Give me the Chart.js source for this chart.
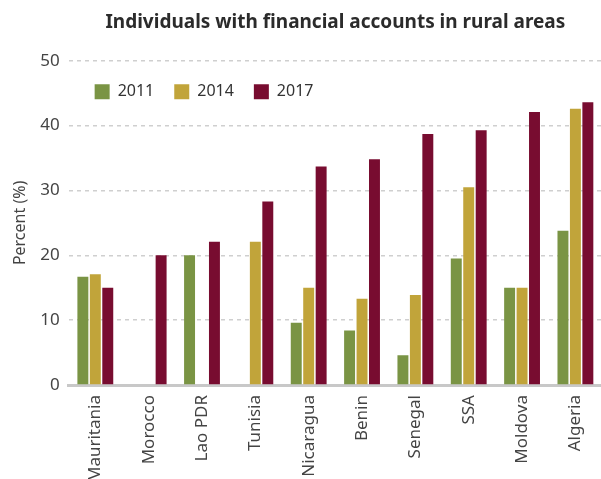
<!DOCTYPE html>
<html>
<head>
<meta charset="utf-8">
<script src="https://cdn.jsdelivr.net/npm/chart.js@4/dist/chart.umd.min.js"></script>
<style>
  html, body { margin: 0; padding: 0; background: #fff; overflow: hidden; }
  #wrap { width: 606px; height: 492px; }
</style>
</head>
<body>
<div id="wrap"><canvas id="chart" width="606" height="492"></canvas></div>
<script>
const countries = ["Mauritania", "Morocco", "Lao PDR", "Tunisia", "Nicaragua", "Benin", "Senegal", "SSA", "Moldova", "Algeria"];
const y2011 = [16.7, null, 20.0, null, 9.6, 8.4, 4.6, 19.5, 15.0, 23.8];
const y2014 = [17.1, null, null, 22.1, 15.0, 13.3, 13.9, 30.5, 15.0, 42.6];
const y2017 = [15.0, 20.0, 22.1, 28.3, 33.7, 34.8, 38.7, 39.3, 42.1, 43.6];
const yTicks = [0, 10, 20, 30, 40, 50];

const ctx = document.getElementById("chart").getContext("2d");
const font = "'Noto Sans', sans-serif";

// legend sits inside the plot, in one row, and takes no layout space
const legendInside = {
  id: "legendInside",
  afterInit(chart) {
    const lg = chart.legend;
    const fit = lg.fit;
    lg.fit = function () { fit.call(this); this.height = 0; };
  },
  afterLayout(chart) {
    const lg = chart.legend, a = chart.chartArea;
    lg.left = a.left + 6;
    lg.right = a.right;
    lg.top = a.top + 3;
    lg.bottom = lg.top + 45;
  }
};

new Chart(ctx, {
  type: "bar",
  data: {
    labels: countries,
    datasets: [
      { label: "2011", data: y2011, backgroundColor: "#7a9444" },
      { label: "2014", data: y2014, backgroundColor: "#c1a43a" },
      { label: "2017", data: y2017, backgroundColor: "#780c30" }
    ]
  },
  plugins: [legendInside],
  options: {
    responsive: false,
    animation: false,
    categoryPercentage: 0.7,
    barPercentage: 0.88,
    layout: { padding: { top: 11, left: 11, right: 0, bottom: 0 } },
    plugins: {
      title: {
        display: true,
        text: "Individuals with financial accounts in rural areas",
        fullSize: false,
        color: "#2b2b2b",
        font: { family: font, size: 19, weight: "bold" },
        padding: { top: 0, bottom: 27 }
      },
      legend: {
        position: "top",
        align: "start",
        labels: {
          boxWidth: 15,
          boxHeight: 15,
          padding: 20,
          color: "#333",
          font: { family: font, size: 16 }
        }
      },
      tooltip: { enabled: false }
    },
    scales: {
      x: {
        grid: { display: false, drawTicks: false },
        border: { display: true, color: "#c8c8c8", width: 3 },
        ticks: {
          minRotation: 90,
          maxRotation: 90,
          padding: 10,
          color: "#444",
          font: { family: font, size: 17 }
        }
      },
      y: {
        min: 0,
        max: 50,
        afterBuildTicks: (axis) => { axis.ticks = yTicks.map((v) => ({ value: v })); },
        grid: {
          color: (c) => (c.tick.value === 0 ? "rgba(0,0,0,0)" : "#cfcfcf"),
          lineWidth: 1.5,
          drawTicks: false
        },
        border: { display: false, dash: [4, 4] },
        ticks: {
          padding: 9,
          color: "#444",
          font: { family: font, size: 17 }
        },
        title: {
          display: true,
          text: "Percent (%)",
          color: "#444",
          font: { family: font, size: 16 },
          padding: { top: 0, bottom: 1 }
        }
      }
    }
  }
});
</script>
</body>
</html>
